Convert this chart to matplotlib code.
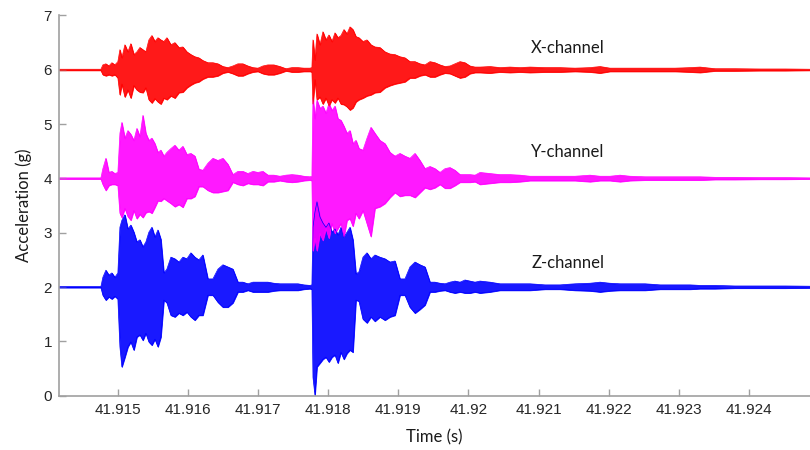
import numpy as np
import matplotlib
matplotlib.use("Agg")
import matplotlib.pyplot as plt

# sample times, in ms after 41.914 s
t_ms = [0.158, 0.758, 0.786, 0.829, 0.872, 0.914, 0.957, 1.000,
        1.029, 1.057, 1.100, 1.143, 1.185, 1.228, 1.271, 1.314, 1.357, 1.399,
        1.442, 1.485, 1.528, 1.571, 1.613, 1.656, 1.699,
        1.756, 1.813, 1.870, 1.927, 1.984, 2.041, 2.098, 2.155, 2.212,
        2.284, 2.355, 2.427, 2.498, 2.569, 2.640, 2.712, 2.783, 2.854, 2.926, 2.997, 3.068, 3.140,
        3.225, 3.311, 3.397, 3.482, 3.568, 3.653, 3.739, 3.767,
        3.782, 3.810, 3.839, 3.882, 3.924, 3.967, 4.010, 4.053, 4.096, 4.138, 4.181, 4.224, 4.267,
        4.310, 4.352, 4.395, 4.438,
        4.495, 4.552, 4.609, 4.666, 4.737, 4.809, 4.880, 4.951, 5.023, 5.094, 5.165, 5.237, 5.308,
        5.379, 5.451, 5.522, 5.593, 5.665, 5.736, 5.807, 5.879, 5.950, 6.021, 6.093, 6.164,
        6.307, 6.449, 6.592, 6.735, 6.877, 7.091, 7.305, 7.519, 7.733, 7.876, 8.018, 8.161,
        8.304, 8.518, 8.732, 8.946, 9.160, 9.302, 9.516, 9.801, 10.158, 10.515, 10.871]

# upper / lower envelope of each channel (g)
x_hi = [6.01, 6.01, 6.09, 6.11, 6.07, 6.13, 6.09, 6.15,
        6.37, 6.22, 6.46, 6.33, 6.48, 6.28, 6.33, 6.41, 6.37, 6.33,
        6.55, 6.63, 6.52, 6.59, 6.55, 6.52, 6.59,
        6.46, 6.50, 6.41, 6.42, 6.33, 6.28, 6.24, 6.22, 6.17,
        6.13, 6.13, 6.11, 6.06, 6.04, 6.07, 6.11, 6.11, 6.07, 6.04, 6.03, 6.07, 6.09,
        6.09, 6.06, 6.02, 6.04, 6.04, 6.03, 6.03, 6.04,
        6.55, 6.18, 6.66, 6.46, 6.70, 6.55, 6.64, 6.52, 6.68, 6.59, 6.63, 6.74, 6.66,
        6.79, 6.74, 6.61, 6.59,
        6.52, 6.55, 6.46, 6.42, 6.41, 6.33, 6.29, 6.28, 6.24, 6.22, 6.15, 6.15, 6.11,
        6.09, 6.15, 6.13, 6.09, 6.06, 6.07, 6.11, 6.15, 6.13, 6.07, 6.05, 6.05,
        6.06, 6.04, 6.05, 6.04, 6.05, 6.04, 6.04, 6.03, 6.04, 6.06, 6.03, 6.03,
        6.03, 6.03, 6.03, 6.03, 6.04, 6.05, 6.02, 6.02, 6.015, 6.015, 6.01]
x_lo = [5.99, 5.99, 5.91, 5.89, 5.91, 5.89, 5.91, 5.85,
        5.54, 5.74, 5.50, 5.63, 5.48, 5.71, 5.63, 5.59, 5.58, 5.67,
        5.45, 5.39, 5.47, 5.41, 5.37, 5.48, 5.45,
        5.52, 5.48, 5.58, 5.59, 5.67, 5.72, 5.76, 5.78, 5.83,
        5.87, 5.87, 5.89, 5.94, 5.96, 5.93, 5.89, 5.89, 5.93, 5.96, 5.97, 5.93, 5.91,
        5.91, 5.94, 5.98, 5.96, 5.96, 5.97, 5.97, 5.96,
        5.37, 5.82, 5.45, 5.50, 5.37, 5.48, 5.34, 5.45, 5.39, 5.48, 5.37, 5.36, 5.32,
        5.26, 5.30, 5.41, 5.45,
        5.48, 5.52, 5.54, 5.58, 5.59, 5.67, 5.71, 5.74, 5.76, 5.78, 5.85, 5.85, 5.89,
        5.91, 5.87, 5.87, 5.91, 5.94, 5.93, 5.89, 5.85, 5.87, 5.93, 5.95, 5.95,
        5.94, 5.96, 5.95, 5.96, 5.95, 5.96, 5.96, 5.97, 5.96, 5.94, 5.97, 5.97,
        5.97, 5.97, 5.97, 5.97, 5.96, 5.95, 5.98, 5.98, 5.985, 5.985, 5.99]

y_hi = [4.01, 4.01, 4.18, 4.37, 4.11, 4.13, 4.09, 4.11,
        4.83, 5.03, 4.74, 4.88, 4.81, 4.70, 4.92, 4.77, 5.16, 4.83,
        4.70, 4.74, 4.64, 4.48, 4.52, 4.41, 4.48,
        4.55, 4.61, 4.52, 4.59, 4.44, 4.46, 4.41, 4.17, 4.15,
        4.28, 4.37, 4.33, 4.37, 4.26, 4.07, 4.13, 4.13, 4.09, 4.13, 4.11, 4.13, 4.06,
        4.06, 4.04, 4.06, 4.07, 4.06, 4.04, 4.03, 4.04,
        5.49, 5.10, 5.44, 5.29, 5.33, 5.20, 5.38, 5.25, 5.33, 5.10, 5.07, 4.96, 4.83,
        4.88, 4.64, 4.70, 4.55,
        4.52, 4.74, 4.94, 4.83, 4.70, 4.64, 4.48, 4.41, 4.46, 4.41, 4.37, 4.46, 4.33,
        4.18, 4.22, 4.18, 4.11, 4.18, 4.20, 4.15, 4.07, 4.07, 4.07, 4.06, 4.11,
        4.09, 4.07, 4.07, 4.06, 4.04, 4.04, 4.04, 4.04, 4.06, 4.04, 4.04, 4.06,
        4.04, 4.03, 4.03, 4.03, 4.03, 4.03, 4.02, 4.02, 4.015, 4.015, 4.01]
y_lo = [3.99, 3.99, 3.89, 3.78, 3.87, 3.89, 3.89, 3.87,
        3.36, 3.28, 3.45, 3.30, 3.23, 3.41, 3.26, 3.34, 3.28, 3.37,
        3.39, 3.36, 3.47, 3.59, 3.58, 3.63, 3.59,
        3.54, 3.48, 3.52, 3.47, 3.63, 3.63, 3.67, 3.85, 3.85,
        3.78, 3.74, 3.74, 3.76, 3.78, 3.93, 3.89, 3.87, 3.91, 3.89, 3.89, 3.87, 3.94,
        3.94, 3.96, 3.94, 3.93, 3.94, 3.96, 3.97, 3.96,
        2.67, 2.90, 2.67, 2.99, 2.86, 3.08, 2.90, 3.17, 2.99, 3.08, 3.17, 2.93, 3.23,
        3.26, 3.12, 3.36, 3.26,
        3.41, 3.17, 2.93, 3.45, 3.48, 3.54, 3.65, 3.74, 3.67, 3.69, 3.69, 3.65, 3.74,
        3.83, 3.80, 3.83, 3.89, 3.82, 3.82, 3.87, 3.93, 3.93, 3.93, 3.94, 3.89,
        3.91, 3.93, 3.93, 3.94, 3.96, 3.96, 3.96, 3.96, 3.94, 3.96, 3.96, 3.94,
        3.96, 3.97, 3.97, 3.97, 3.97, 3.97, 3.98, 3.98, 3.985, 3.985, 3.99]

z_hi = [2.01, 2.01, 2.18, 2.31, 2.22, 2.26, 2.18, 2.26,
        3.10, 3.23, 3.33, 3.07, 3.14, 3.01, 2.83, 2.87, 2.74, 2.83,
        3.01, 3.10, 2.92, 3.05, 2.88, 2.26, 2.33,
        2.55, 2.52, 2.46, 2.55, 2.52, 2.63, 2.55, 2.50, 2.59,
        2.15, 2.15, 2.33, 2.41, 2.37, 2.33, 2.09, 2.09, 2.06, 2.09, 2.09, 2.09, 2.09,
        2.07, 2.06, 2.06, 2.06, 2.06, 2.04, 2.03, 2.04,
        3.10, 3.38, 3.57, 3.29, 3.18, 3.10, 3.18, 3.01, 3.07, 2.96, 3.10, 2.92, 3.01,
        3.10, 2.87, 2.24, 2.28,
        2.55, 2.63, 2.52, 2.59, 2.55, 2.52, 2.46, 2.48, 2.15, 2.15, 2.37, 2.46, 2.41,
        2.37, 2.09, 2.09, 2.07, 2.06, 2.09, 2.11, 2.09, 2.13, 2.11, 2.09, 2.11,
        2.09, 2.06, 2.06, 2.06, 2.06, 2.04, 2.04, 2.06, 2.07, 2.09, 2.07, 2.06,
        2.06, 2.06, 2.04, 2.04, 2.04, 2.03, 2.03, 2.02, 2.02, 2.02, 2.015]
z_lo = [1.99, 1.99, 1.85, 1.76, 1.82, 1.78, 1.83, 1.78,
        0.90, 0.53, 0.71, 0.90, 0.99, 0.84, 1.08, 1.12, 1.02, 1.15,
        0.99, 0.93, 1.04, 0.90, 1.08, 1.76, 1.71,
        1.48, 1.45, 1.52, 1.48, 1.54, 1.45, 1.39, 1.48, 1.48,
        1.85, 1.85, 1.72, 1.63, 1.63, 1.71, 1.91, 1.91, 1.94, 1.91, 1.91, 1.91, 1.91,
        1.93, 1.94, 1.94, 1.94, 1.94, 1.96, 1.97, 1.96,
        0.34, 0.01, 0.53, 0.60, 0.67, 0.71, 0.62, 0.71, 0.75, 0.60, 0.80, 0.67, 0.78,
        0.84, 0.80, 1.76, 1.74,
        1.41, 1.34, 1.45, 1.37, 1.45, 1.39, 1.45, 1.48, 1.85, 1.85, 1.63, 1.52, 1.59,
        1.67, 1.91, 1.91, 1.93, 1.94, 1.91, 1.89, 1.91, 1.89, 1.89, 1.91, 1.89,
        1.91, 1.94, 1.94, 1.94, 1.94, 1.96, 1.96, 1.94, 1.93, 1.91, 1.93, 1.94,
        1.94, 1.94, 1.96, 1.96, 1.96, 1.97, 1.97, 1.98, 1.98, 1.98, 1.985]

channels = ["Z-channel", "Y-channel", "X-channel"]
label_y = [2.44, 4.49, 6.40]
label_t = 41.92142
colors = ["#0000FF", "#FF00FF", "#FF0000"]

t = 41.914 + np.array(t_ms) / 1000.0
envelopes = [(z_lo, z_hi), (y_lo, y_hi), (x_lo, x_hi)]

fig = plt.figure(figsize=(8.1, 4.5), dpi=100)
ax = fig.add_axes([0.0728, 0.1207, 0.9272, 0.8449])

for (lo, hi), c, name, ly in zip(envelopes, colors, channels, label_y):
    ax.fill_between(t, lo, hi, color=c, lw=0.6, alpha=0.9)
    ax.plot(t, hi, color=c, lw=0.5)
    ax.plot(t, lo, color=c, lw=0.5)
    ax.text(label_t, ly, name, ha="center", va="center", fontsize=12,
            family="Lato", color="#1a1a1a")

ax.set_xlim(41.91416, 41.92487)
ax.set_ylim(0, 7)
ax.set_xticks([41.915, 41.916, 41.917, 41.918, 41.919, 41.92,
               41.921, 41.922, 41.923, 41.924])
ax.set_xticklabels(["41.915", "41.916", "41.917", "41.918", "41.919", "41.92",
                    "41.921", "41.922", "41.923", "41.924"])
ax.set_yticks(range(8))

for s in ["top", "right"]:
    ax.spines[s].set_visible(False)
for s in ["left", "bottom"]:
    ax.spines[s].set_color("#a0a0a0")
    ax.spines[s].set_linewidth(1.2)

ax.tick_params(direction="in", length=5, width=1, color="#a0a0a0",
               labelsize=11, labelcolor="#262626", pad=5)
for lab in ax.get_xticklabels() + ax.get_yticklabels():
    lab.set_family("Liberation Sans")

ax.set_xlabel("Time (s)", fontsize=12, family="Lato", color="#1a1a1a", labelpad=9)
ax.set_ylabel("Acceleration (g)", fontsize=12, family="Lato", color="#1a1a1a", labelpad=8)

fig.savefig("out.png", dpi=100)
